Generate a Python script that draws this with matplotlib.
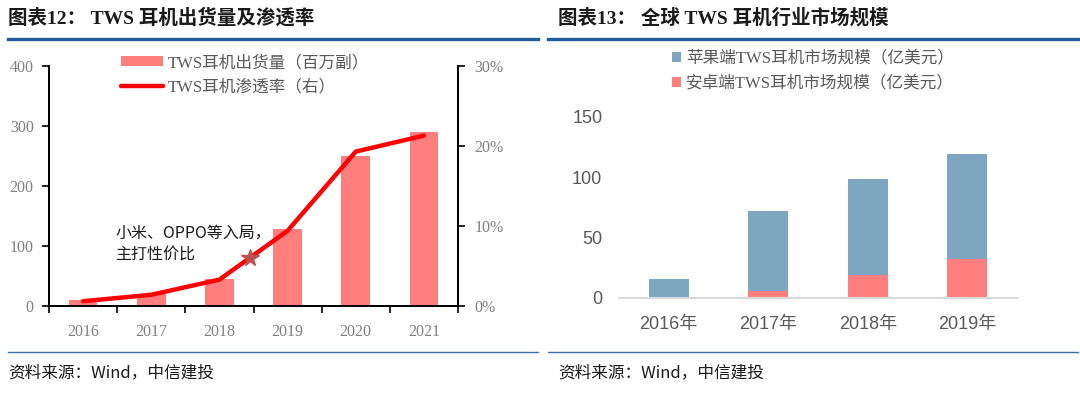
import matplotlib
matplotlib.use("Agg")
import matplotlib.pyplot as plt
from matplotlib.lines import Line2D
import numpy as np

plt.rcParams['font.family'] = ['Liberation Serif', 'Noto Sans CJK SC', 'DejaVu Sans']

# ---------------- data ----------------
years_left = ['2016', '2017', '2018', '2019', '2020', '2021']
shipments = [10, 20, 45, 128, 250, 290]            # 百万副
penetration = [0.6, 1.4, 3.3, 9.4, 19.3, 21.3]      # %
star_x, star_y = 2.45, 6.0
annot_text = "小米、OPPO等入局，\n主打性价比"

years_right = ['2016年', '2017年', '2018年', '2019年']
apple = [16, 66, 80, 87]
android = [0, 6, 19, 32]

left_yticks = [0, 100, 200, 300, 400]
right_pct_ticks = [0, 10, 20, 30]
right_yticks = [0, 50, 100, 150]

# ---------------- figure ----------------
W, H = 1080, 396
fig = plt.figure(figsize=(W / 100, H / 100), dpi=100)

def fx(px):
    return px / W

def fy(py):
    return 1 - py / H

grey = '#7f7f7f'
serif_cjk = ['Liberation Serif', 'Noto Sans CJK SC', 'DejaVu Sans']
cjk = ['Noto Sans CJK SC', 'DejaVu Sans']

# titles, separators
fig.text(fx(8), fy(18), "图表12： TWS 耳机出货量及渗透率", fontsize=14, fontweight='bold',
         family=serif_cjk, va='center', ha='left', color='#1a1a1a')
fig.text(fx(558), fy(18), "图表13： 全球 TWS 耳机行业市场规模", fontsize=14, fontweight='bold',
         family=serif_cjk, va='center', ha='left', color='#1a1a1a')
for x0, x1 in [(8, 538), (548, 1078)]:
    fig.add_artist(Line2D([fx(x0), fx(x1)], [fy(39), fy(39)], color='#1f5c99', lw=2.4))
    fig.add_artist(Line2D([fx(x0), fx(x1)], [fy(352), fy(352)], color='#3a70a8', lw=1.0))
fig.text(fx(8), fy(373), "资料来源：Wind，中信建投", fontsize=12, family=cjk,
         style='italic', va='center', ha='left', color='#1a1a1a')
fig.text(fx(558), fy(373), "资料来源：Wind，中信建投", fontsize=12, family=cjk,
         style='italic', va='center', ha='left', color='#1a1a1a')

# ---------------- left chart ----------------
ax = fig.add_axes([fx(49), fy(306), fx(458 - 49), (306 - 66) / H])
x = np.arange(len(years_left))
bars = ax.bar(x, shipments, width=0.42, color='#ff7f7f', label='TWS耳机出货量（百万副）', zorder=2)
ax.set_xlim(-0.5, len(years_left) - 0.5)
ax.set_ylim(0, 400)
ax.set_yticks(left_yticks)
ax.set_xticks(x)
ax.set_xticklabels(years_left)
ax.set_xticks(np.arange(-0.5, len(years_left), 1.0), minor=True)
ax.tick_params(axis='x', which='major', length=0, pad=13, labelsize=11.5, labelcolor=grey)
ax.tick_params(axis='x', which='minor', length=5, width=1.2, direction='out', color='black')
ax.tick_params(axis='y', length=5, width=1.2, direction='out', pad=6, labelsize=11.5, labelcolor=grey)
ax.spines['top'].set_visible(False)
for s in ['left', 'bottom', 'right']:
    ax.spines[s].set_linewidth(1.4)
    ax.spines[s].set_color('black')

ax2 = ax.twinx()
line, = ax2.plot(x, penetration, color='#ff0000', lw=3.2, solid_capstyle='round',
                 label='TWS耳机渗透率（右）', zorder=3)
ax2.plot([star_x], [star_y], marker='*', markersize=13, color='#c0504d', linestyle='none', zorder=4)
ax2.set_ylim(0, 30)
ax2.set_yticks(right_pct_ticks)
ax2.set_yticklabels([f"{v}%" for v in right_pct_ticks])
ax2.tick_params(axis='y', length=5, width=1.2, direction='out', pad=7, labelsize=11.5, labelcolor=grey)
ax2.spines['top'].set_visible(False)
for s in ['left', 'bottom', 'right']:
    ax2.spines[s].set_linewidth(1.4)
    ax2.spines[s].set_color('black')
ax2.text(0.47, 7.7, annot_text, fontsize=11.5, family=cjk, color='#1a1a1a',
         va='center', ha='left', linespacing=1.4)

leg = fig.legend([bars, line], ['TWS耳机出货量（百万副）', 'TWS耳机渗透率（右）'],
                 loc='upper left', bbox_to_anchor=(fx(121), fy(55)), frameon=False,
                 prop={'family': serif_cjk, 'size': 12}, handlelength=2.5, handleheight=0.6,
                 handletextpad=0.3, labelspacing=0.5, borderpad=0, borderaxespad=0)
for t in leg.get_texts():
    t.set_color('#595959')

# ---------------- right chart ----------------
axr = fig.add_axes([fx(619), fy(298), fx(1017 - 619), (298 - 117) / H])
xr = np.arange(len(years_right))
b1 = axr.bar(xr, android, width=0.4, color='#ff7f7f', label='安卓端TWS耳机市场规模（亿美元）', zorder=2)
b2 = axr.bar(xr, apple, width=0.4, bottom=android, color='#7fa6c1',
             label='苹果端TWS耳机市场规模（亿美元）', zorder=2)
axr.set_xlim(-0.5, len(years_right) - 0.5)
axr.set_ylim(0, 150)
axr.set_yticks(right_yticks)
axr.set_xticks(xr)
axr.set_xticklabels(years_right)
for s in ['top', 'left', 'right']:
    axr.spines[s].set_visible(False)
axr.spines['bottom'].set_color('#d9d9d9')
axr.spines['bottom'].set_linewidth(1.5)
axr.tick_params(axis='both', length=0)
axr.tick_params(axis='y', pad=12, labelsize=13, labelcolor='#595959')
axr.tick_params(axis='x', pad=13, labelsize=13, labelcolor='#595959')
for lab in axr.get_xticklabels() + axr.get_yticklabels():
    lab.set_family(['Liberation Sans', 'Noto Sans CJK SC', 'DejaVu Sans'])

legr = fig.legend([b2, b1], ['苹果端TWS耳机市场规模（亿美元）', '安卓端TWS耳机市场规模（亿美元）'],
                  loc='upper left', bbox_to_anchor=(fx(672), fy(51)), frameon=False,
                  prop={'family': serif_cjk, 'size': 12}, handlelength=0.55, handleheight=0.55,
                  handletextpad=0.3, labelspacing=0.55, borderpad=0, borderaxespad=0)
for t in legr.get_texts():
    t.set_color('#595959')

fig.savefig('out.png', dpi=100)
